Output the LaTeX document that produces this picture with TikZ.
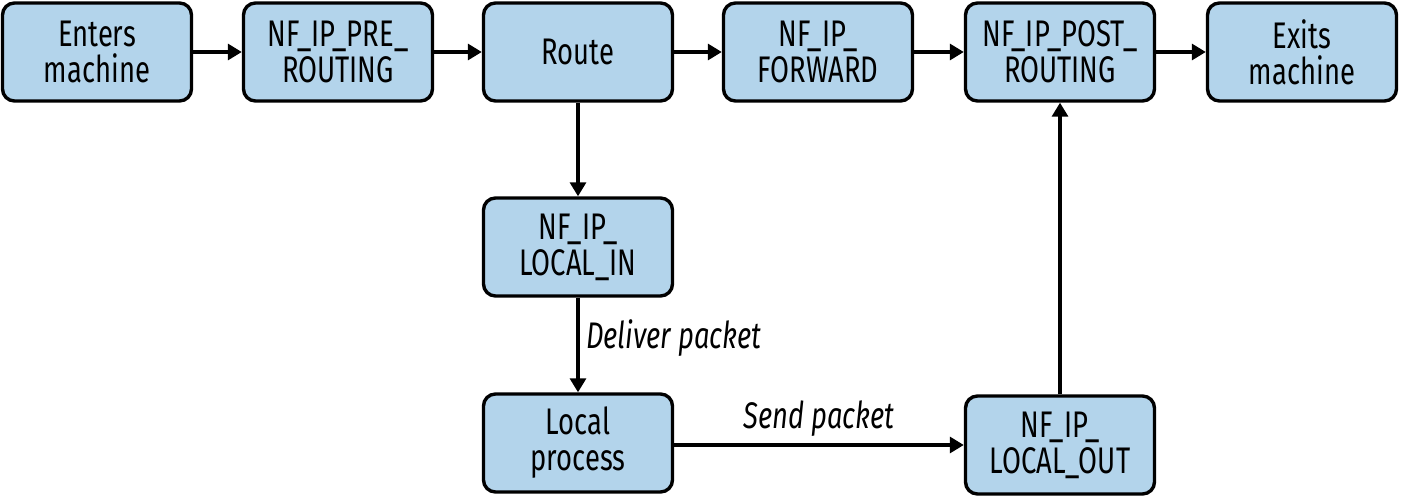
\documentclass[tikz,border=0pt]{standalone}
\usepackage{fontspec}
\setmainfont[FakeStretch=0.74]{Fira Sans}
\usetikzlibrary{arrows.meta}
\definecolor{boxblue}{HTML}{B3D4EB}
\begin{document}
\begin{tikzpicture}[x=0.5pt,y=-0.5pt,
  stage/.style={draw=black, line width=1.7pt, fill=boxblue, rounded corners=6pt,
    minimum width=94.5pt, minimum height=49pt, inner sep=0pt, align=center,
    font=\fontsize{18.5}{18}\selectfont},
  flow/.style={line width=1.6pt, -{Triangle[length=7pt,width=8pt]}},
  lbl/.style={font=\fontsize{18.5}{18}\selectfont\itshape}]
\useasboundingbox (0,0) rectangle (1402,497);
\node[stage] (enter) at (97,52) {Enters\\machine};
\node[stage] (pre) at (338,52) {NF\_IP\_PRE\_\\ROUTING};
\node[stage] (route) at (578,52) {Route};
\node[stage] (fwd) at (818,52) {NF\_IP\_\\FORWARD};
\node[stage] (post) at (1060,52) {NF\_IP\_POST\_\\ROUTING};
\node[stage] (exit) at (1302,52) {Exits\\machine};
\node[stage] (lin) at (578,247) {NF\_IP\_\\LOCAL\_IN};
\node[stage] (lproc) at (578,443) {Local\\process};
\node[stage] (lout) at (1060,445) {NF\_IP\_\\LOCAL\_OUT};
\draw[flow] (enter) -- (pre);
\draw[flow] (pre) -- (route);
\draw[flow] (route) -- (fwd);
\draw[flow] (fwd) -- (post);
\draw[flow] (post) -- (exit);
\draw[flow] (route) -- (lin);
\draw[flow] (lin) -- node[lbl, right, xshift=0pt, yshift=3.5pt] {Deliver packet} (lproc);
\draw[flow] (lproc.east |- lout.west) -- node[lbl, above, yshift=0pt] {Send packet} (lout.west);
\draw[flow] (lout) -- (post);
\end{tikzpicture}
\end{document}
